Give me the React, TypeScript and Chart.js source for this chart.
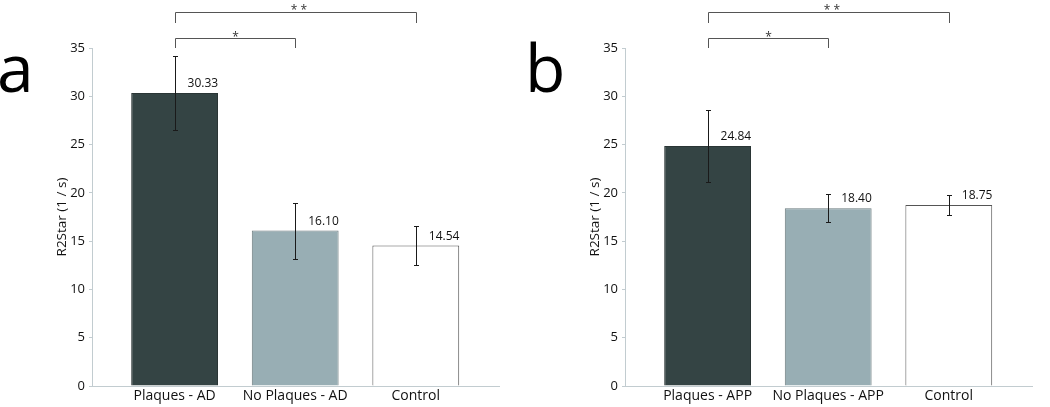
import React, { useEffect, useRef } from "react";
import { Chart, registerables } from "chart.js";

Chart.register(...registerables);

const FONT = '"Open Sans", "Noto Sans", sans-serif';

const xPositions = [1, 2, 3];
const yTickValues = [0, 5, 10, 15, 20, 25, 30, 35];

const categoriesA = ["Plaques - AD", "No Plaques - AD", "Control"];
const valuesA = [30.33, 16.1, 14.54];
const errorsA = [3.8, 2.9, 2.0];

const categoriesB = ["Plaques - APP", "No Plaques - APP", "Control"];
const valuesB = [24.84, 18.4, 18.75];
const errorsB = [3.7, 1.45, 1.05];

const barFill = ["#344444", "#98aeb4", "#ffffff"];
const barBorder = ["#2a3535", "#6b7a7e", "#555555"];
const axisColor = "#c2ccd0";
const textColor = "#111";

type PanelProps = {
  letter: string;
  letterX: number;
  categories: string[];
  values: number[];
  errors: number[];
  left: number;
  padLeft: number;
  padRight: number;
};

function Panel({ letter, letterX, categories, values, errors, left, padLeft, padRight }: PanelProps) {
  const ref = useRef<HTMLCanvasElement | null>(null);

  useEffect(() => {
    if (!ref.current) return;
    const overlay = {
      id: "overlay",
      afterDatasetsDraw(chart: any) {
        const ctx = chart.ctx;
        const xs = chart.scales.x;
        const ys = chart.scales.y;
        const ca = chart.chartArea;
        ctx.save();
        // error bars
        ctx.strokeStyle = "#1a1a1a";
        ctx.lineWidth = 1;
        values.forEach((v, i) => {
          const cx = Math.round(xs.getPixelForValue(xPositions[i])) + 0.5;
          const yt = Math.round(ys.getPixelForValue(v + errors[i])) + 0.5;
          const yb = Math.round(ys.getPixelForValue(v - errors[i])) + 0.5;
          ctx.beginPath();
          ctx.moveTo(cx, yt);
          ctx.lineTo(cx, yb);
          ctx.moveTo(cx - 2.5, yt);
          ctx.lineTo(cx + 2.5, yt);
          ctx.moveTo(cx - 2.5, yb);
          ctx.lineTo(cx + 2.5, yb);
          ctx.stroke();
        });
        // value labels
        ctx.fillStyle = textColor;
        ctx.font = `12px ${FONT}`;
        ctx.textAlign = "left";
        ctx.textBaseline = "alphabetic";
        values.forEach((v, i) => {
          const cx = xs.getPixelForValue(xPositions[i]);
          const yt = ys.getPixelForValue(v);
          ctx.fillText(v.toFixed(2), cx + 13, yt - 6);
        });
        // significance brackets
        const x1 = Math.round(xs.getPixelForValue(xPositions[0])) + 0.5;
        const x2 = Math.round(xs.getPixelForValue(xPositions[1])) + 0.5;
        const x3 = Math.round(xs.getPixelForValue(xPositions[2])) + 0.5;
        const top = ca.top;
        ctx.strokeStyle = "#555";
        ctx.beginPath();
        ctx.moveTo(x1, top - 25);
        ctx.lineTo(x1, top - 35.5);
        ctx.lineTo(x3, top - 35.5);
        ctx.lineTo(x3, top - 25);
        ctx.moveTo(x1, top);
        ctx.lineTo(x1, top - 9.5);
        ctx.lineTo(x2, top - 9.5);
        ctx.lineTo(x2, top);
        ctx.stroke();
        ctx.fillStyle = "#333";
        ctx.font = `12px ${FONT}`;
        ctx.textAlign = "center";
        ctx.fillText("* *", (x1 + x3) / 2 + 3, top - 34);
        ctx.fillText("*", (x1 + x2) / 2, top - 7);
        // panel letter
        ctx.fillStyle = "#000";
        ctx.font = `66px ${FONT}`;
        ctx.textAlign = "left";
        ctx.fillText(letter, letterX, 92);
        ctx.restore();
      },
    };

    const chart = new Chart(ref.current, {
      type: "bar",
      data: {
        datasets: [
          {
            data: values.map((v, i) => ({ x: xPositions[i], y: v })),
            backgroundColor: barFill,
            borderColor: barBorder,
            borderWidth: 1,
            barPercentage: 0.72,
            categoryPercentage: 1,
          },
        ],
      },
      options: {
        animation: false,
        responsive: true,
        maintainAspectRatio: false,
        layout: { padding: { left: padLeft, right: padRight, top: 48, bottom: 0 } },
        plugins: { legend: { display: false }, tooltip: { enabled: false } },
        scales: {
          x: {
            type: "linear",
            offset: false,
            min: 0.315,
            max: 3.69,
            afterBuildTicks: (s: any) => {
              s.ticks = xPositions.map((v) => ({ value: v }));
            },
            afterFit: (s: any) => {
              s.height = 21;
            },
            grid: { display: false, drawTicks: false, tickLength: 0 },
            border: { color: axisColor, width: 1 },
            ticks: {
              font: { family: FONT, size: 14 },
              color: textColor,
              padding: 2,
              maxRotation: 0,
              autoSkip: false,
              callback: (value: any) => {
                const idx = xPositions.indexOf(Number(value));
                return idx >= 0 ? categories[idx] : "";
              },
            },
          },
          y: {
            min: 0,
            max: 35,
            afterBuildTicks: (s: any) => {
              s.ticks = yTickValues.map((v) => ({ value: v }));
            },
            afterFit: (s: any) => {
              s.width = 92;
            },
            grid: { drawOnChartArea: false, tickLength: 3, color: axisColor },
            border: { color: axisColor, width: 1 },
            ticks: {
              font: { family: FONT, size: 13 },
              color: textColor,
              padding: 4,
            },
            title: {
              display: true,
              text: "R2Star (1 / s)",
              font: { family: FONT, size: 13.5 },
              color: textColor,
              padding: { top: 54, bottom: 0 },
            },
          },
        },
      },
      plugins: [overlay],
    });
    return () => chart.destroy();
  }, []);

  return (
    <div style={{ position: "absolute", left, top: 0, width: 525, height: 407 }}>
      <canvas ref={ref} />
    </div>
  );
}

export default function App() {
  return (
    <div style={{ position: "fixed", left: 0, top: 0, width: 1050, height: 407, background: "#fff" }}>
      <Panel letter="a" letterX={-3} categories={categoriesA} values={valuesA} errors={errorsA} left={0} padLeft={0} padRight={26} />
      <Panel letter="b" letterX={0} categories={categoriesB} values={valuesB} errors={errorsB} left={525} padLeft={8} padRight={18} />
    </div>
  );
}
